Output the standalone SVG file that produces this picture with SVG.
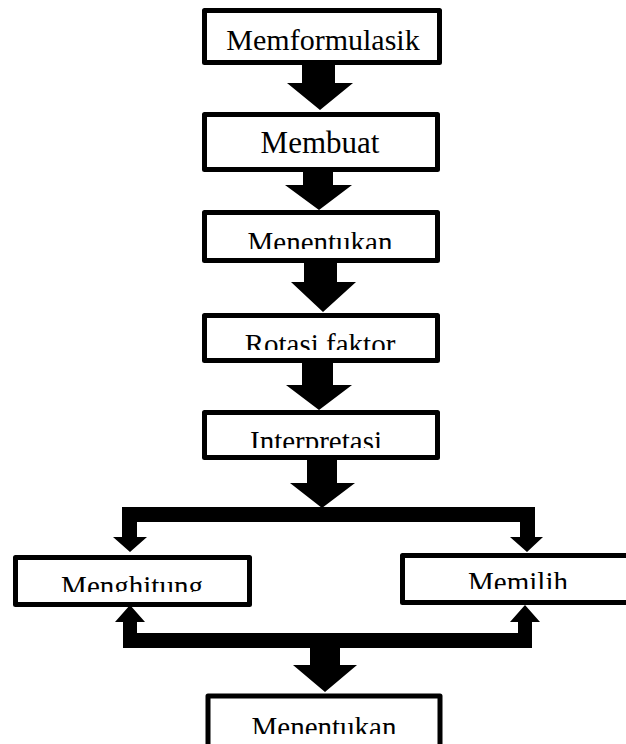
<svg xmlns="http://www.w3.org/2000/svg" width="626" height="744" viewBox="0 0 626 744">
<style>
.box{fill:#fff;stroke:#000;stroke-width:5;stroke-linejoin:round}
.t{font-family:"Liberation Serif","Times New Roman",serif;fill:#000;text-anchor:middle}
.arr{fill:#000;stroke:none}
</style>
<defs>
<clipPath id="c3"><rect x="0" y="0" width="626" height="249"/></clipPath>
<clipPath id="c4"><rect x="0" y="0" width="626" height="350"/></clipPath>
<clipPath id="c5"><rect x="0" y="0" width="626" height="448"/></clipPath>
<clipPath id="c6"><rect x="0" y="0" width="626" height="592"/></clipPath>
<clipPath id="c7"><rect x="0" y="0" width="626" height="589"/></clipPath>
<clipPath id="c8"><rect x="0" y="0" width="626" height="734"/></clipPath>
</defs>
<g id="connectors">
<polygon class="arr" points="302,63 335,63 335,83 353,83 320,110 287,83 302,83"/>
<polygon class="arr" points="303,170 333,170 333,185 352,185 319,210 285,185 303,185"/>
<polygon class="arr" points="304,261 337,261 337,282 356,282 323,312 291,282 304,282"/>
<polygon class="arr" points="302,361 333,361 333,385 352,385 319,410 286,385 302,385"/>
<polygon class="arr" points="307,458 337,458 337,483 355,483 322,508 290,483 307,483"/>
<polygon class="arr" points="122,507 535,507 535,537 543,537 527,552 510,537 520,537 520,522 137,522 137,537 147,537 130,552 113,537 122,537"/>
<polygon class="arr" points="130,605 145,622 137,622 137,633 518,633 518,622 510,622 525,605 540,622 532,622 532,648 340,648 340,665 357,665 325,692 293,665 310,665 310,648 123,648 123,622 115,622"/>
</g>
<g id="n1"><rect class="box" x="204.5" y="10.5" width="235" height="52"/><text class="t" x="323" y="50" font-size="30">Memformulasik</text></g>
<g id="n2"><rect class="box" x="204.5" y="114.5" width="233" height="55"/><text class="t" x="320" y="153" font-size="31">Membuat</text></g>
<g id="n3"><rect class="box" x="204.5" y="212.5" width="233" height="48"/><text class="t" x="320" y="252" font-size="29" clip-path="url(#c3)">Menentukan</text></g>
<g id="n4"><rect class="box" x="204.5" y="315.5" width="233" height="45"/><text class="t" x="320" y="354" font-size="29" clip-path="url(#c4)">Rotasi faktor</text></g>
<g id="n5"><rect class="box" x="204.5" y="412.5" width="233" height="45"/><text class="t" x="316" y="451" font-size="29" clip-path="url(#c5)">Interpretasi</text></g>
<g id="n6"><rect class="box" x="15.5" y="557.5" width="234" height="47"/><text class="t" x="132" y="596" font-size="29" clip-path="url(#c6)">Menghitung</text></g>
<g id="n7"><rect class="box" x="402.5" y="555.5" width="260" height="47"/><text class="t" x="518" y="592" font-size="29" clip-path="url(#c7)">Memilih</text></g>
<g id="n8"><rect class="box" x="208" y="696" width="232" height="70"/><text class="t" x="324" y="737" font-size="29" clip-path="url(#c8)">Menentukan</text></g>
</svg>
